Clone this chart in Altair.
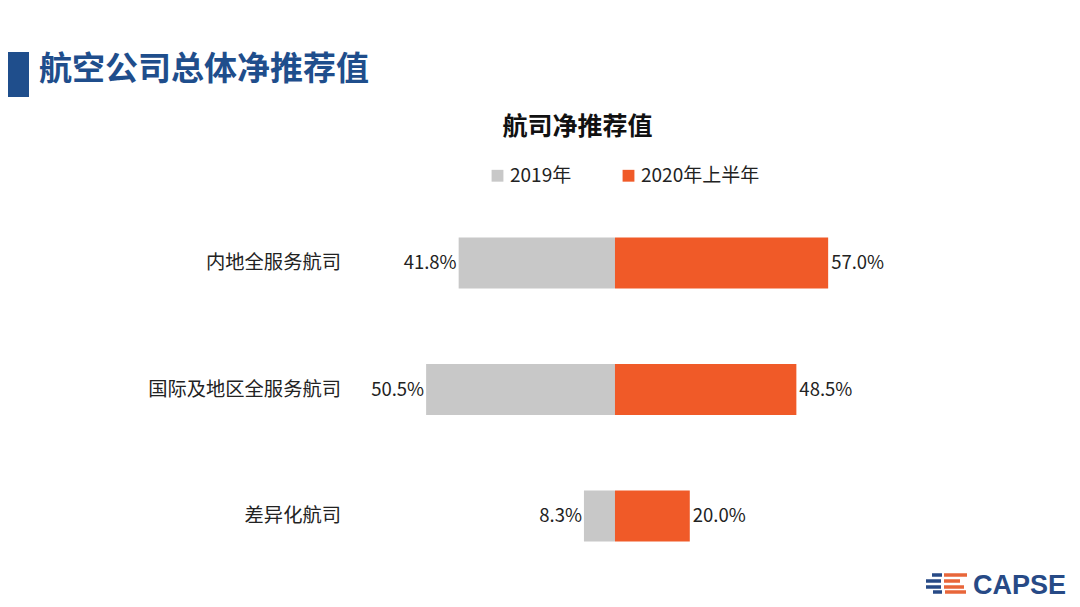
import altair as alt
import pandas as pd

# ---- data ----
categories = ["内地全服务航司", "国际及地区全服务航司", "差异化航司"]
v2019 = [41.8, 50.5, 8.3]
v2020 = [57.0, 48.5, 20.0]
series = ["2019年", "2020年上半年"]
colors = ["#C8C8C8", "#F05A28"]

FONT = "Noto Sans CJK SC"
W, H = 1064, 591

rows = []
for c, a, b in zip(categories, v2019, v2020):
    rows.append({"cat": c, "series": series[0], "val": a, "x0": -a, "x1": 0.0})
    rows.append({"cat": c, "series": series[1], "val": b, "x0": 0.0, "x1": b})
df = pd.DataFrame(rows)

xscale = alt.Scale(domain=[-162.3, 122.2])
yscale = alt.Scale(domain=categories, range=[191.75, 571.25], paddingInner=0.597, paddingOuter=0.2985)

base = alt.Chart(df)

bars = base.mark_bar(cornerRadius=0).encode(
    x=alt.X("x0:Q", scale=xscale, axis=None),
    x2="x1:Q",
    y=alt.Y("cat:N", scale=yscale, axis=None),
    color=alt.Color(
        "series:N",
        scale=alt.Scale(domain=series, range=colors),
        legend=alt.Legend(
            title=None,
            orient="none",
            legendX=480,
            legendY=158,
            direction="horizontal",
            symbolType="square",
            symbolSize=140,
            symbolStrokeWidth=0,
            labelFont=FONT,
            labelFontSize=19,
            labelColor="#222222",
            labelOffset=3,
            columnPadding=47,
            padding=0,
        ),
    ),
)

lbl_left = base.transform_filter(alt.datum.series == series[0]).transform_calculate(
    t="format(datum.val, '.1f') + '%'"
).mark_text(align="right", baseline="middle", dx=-2, font=FONT, fontSize=18.5, color="#222222").encode(
    x=alt.X("x0:Q", scale=xscale), y=alt.Y("cat:N", scale=yscale), text="t:N"
)

lbl_right = base.transform_filter(alt.datum.series == series[1]).transform_calculate(
    t="format(datum.val, '.1f') + '%'"
).mark_text(align="left", baseline="middle", dx=3, font=FONT, fontSize=18.5, color="#222222").encode(
    x=alt.X("x1:Q", scale=xscale), y=alt.Y("cat:N", scale=yscale), text="t:N"
)

cat_df = pd.DataFrame({"cat": categories})
cat_lbl = alt.Chart(cat_df).mark_text(
    align="right", baseline="middle", font=FONT, fontSize=19.3, color="#222222"
).encode(x=alt.value(333), y=alt.Y("cat:N", scale=yscale), text="cat:N")

one = pd.DataFrame({"a": [0]})
title_bar = alt.Chart(one).mark_rect(color="#1F4E8C").encode(
    x=alt.value(0), x2=alt.value(21), y=alt.value(44), y2=alt.value(89)
)
main_title = alt.Chart(one).mark_text(
    align="left", baseline="middle", font=FONT, fontSize=33, fontWeight="bold", color="#1F4E8C"
).encode(x=alt.value(31), y=alt.value(62), text=alt.value("航空公司总体净推荐值"))

chart_title = alt.Chart(one).mark_text(
    align="center", baseline="middle", font=FONT, fontSize=25, fontWeight="bold", color="#111111"
).encode(x=alt.value(569.5), y=alt.value(118.5), text=alt.value("航司净推荐值"))

# logo
logo_layers = []
segs = [
    (575, 932, 942, 944, 967),
    (581, 926, 941, 944, 960),
    (587, 926, 941, 944, 964),
    (592, 933, 942, 945, 966),
]
for yy, b0, b1, o0, o1 in segs:
    logo_layers.append(alt.Chart(one).mark_rule(color="#274A86", strokeWidth=3.5).encode(
        x=alt.value(b0 - 8), x2=alt.value(b1 - 8), y=alt.value(yy - 8)))
    logo_layers.append(alt.Chart(one).mark_rule(color="#E8663A", strokeWidth=3.5).encode(
        x=alt.value(o0 - 8), x2=alt.value(o1 - 8), y=alt.value(yy - 8)))
logo_text = alt.Chart(one).mark_text(
    align="left", baseline="alphabetic", font="Liberation Sans", fontSize=27, fontWeight="bold", color="#274A86"
).encode(x=alt.value(965), y=alt.value(586), text=alt.value("CAPSE"))

chart = alt.layer(
    bars, lbl_left, lbl_right, cat_lbl, title_bar, main_title, chart_title, *logo_layers, logo_text
).properties(
    width=W, height=H, padding=0, autosize=alt.AutoSizeParams(type="none"), background="white"
).configure_view(stroke=None)

chart.save("out.html", embed_options={"renderer": "svg", "actions": False})
